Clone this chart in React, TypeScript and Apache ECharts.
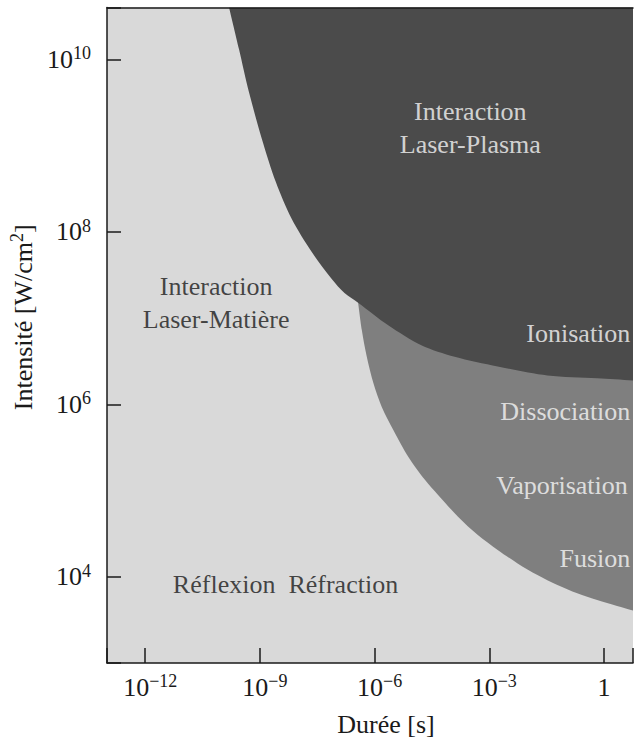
import React, { useEffect, useRef } from 'react';
import * as echarts from 'echarts';

// Axis ticks
const xTickValues = [1e-12, 1e-9, 1e-6, 1e-3, 1];
const yTickValues = [1e4, 1e6, 1e8, 1e10];

// Boundary of the laser-plasma region (duration [s], intensity [W/cm2])
const plasmaDuration = [1.56e-10, 2.84e-10, 5.18e-10, 1.13e-9, 2.61e-9, 6.81e-9, 2.25e-8, 7.48e-8, 1.63e-7, 3.77e-7, 2.27e-6, 1.67e-5, 1.24e-4, 1.66e-3, 3.32e-2, 0.664, 5.74, 40];
const plasmaIntensity = [4e10, 1.31e10, 4.15e9, 1.19e9, 3.78e8, 1.41e8, 5.87e7, 2.86e7, 1.95e7, 1.5e7, 8.26e6, 4.85e6, 3.56e6, 2.75e6, 2.16e6, 2.0e6, 1.89e6, 1.82e6];

// Boundary of the thermal-effects region (fusion / vaporisation / dissociation)
const thermalDuration = [3.58e-7, 4.63e-7, 6.25e-7, 9.33e-7, 1.53e-6, 3.09e-6, 7.59e-6, 2.07e-5, 4.58e-5, 1.52e-4, 5.02e-4, 1.66e-3, 5.51e-3, 1.82e-2, 6.05e-2, 0.2, 0.664, 2.2, 5.73, 40];
const thermalIntensity = [1.72e7, 7.28e6, 3.56e6, 1.75e6, 9.4e5, 5.04e5, 2.47e5, 1.33e5, 8.87e4, 4.98e4, 3.05e4, 2.05e4, 1.43e4, 1.05e4, 8.04e3, 6.44e3, 5.38e3, 4.58e3, 4.05e3, 3.1e3];

// Region annotations
const regionNames = ['Interaction\nLaser-Plasma', 'Interaction\nLaser-Matière', 'Ionisation', 'Dissociation', 'Vaporisation', 'Fusion', 'Réflexion  Réfraction'];
const regionDuration = [3.19e-4, 7.16e-11, 4.9, 4.9, 4.2, 4.9, 4.67e-9];
const regionIntensity = [1.61e9, 1.49e7, 6.62e6, 8.3e5, 1.13e5, 1.64e4, 8.1e3];

const FONT = 'Liberation Serif';
const INK = '#1a1a1a';
const LIGHT = '#d9d9d9';
const MID = '#7f7f7f';
const DARK = '#4b4b4b';
const WHITE = '#f7f7f7';

export default function App() {
  const ref = useRef<HTMLDivElement>(null);
  useEffect(() => {
    const chart = echarts.init(ref.current as HTMLDivElement, null, { renderer: 'svg' });
    const near = (v: number, list: number[]) =>
      list.find((t) => Math.abs(Math.log10(v) - Math.log10(t)) < 1e-6);
    const powLabel = (list: number[], shiftNeg: boolean) => (v: number) => {
      const t = near(v, list);
      if (t === undefined) return '';
      const e = Math.round(Math.log10(t));
      if (e === 0) return '{b|1}';
      const base = e < 0 && shiftNeg ? 'bn' : 'b';
      return `{${base}|10}{s|${e < 0 ? '\u2212' : ''}${Math.abs(e)}}`;
    };
    const rich = {
      b: { fontFamily: FONT, fontSize: 26, color: INK, lineHeight: 30 },
      bn: { fontFamily: FONT, fontSize: 26, color: INK, lineHeight: 30, padding: [0, 0, 0, 10] },
      s: { fontFamily: FONT, fontSize: 18, color: INK, lineHeight: 18, verticalAlign: 'top' },
    };
    const axisLineStyle = { color: INK, width: 1.5 };
    const xMin = 1e-13;
    const xMax = 5.75;
    const yMin = 1e3;
    const yMax = 4e10;
    const whiteIdx = [0, 2, 3, 4, 5];
    const rightIdx = [2, 3, 4, 5];

    chart.setOption({
      animation: false,
      backgroundColor: '#ffffff',
      textStyle: { fontFamily: FONT },
      grid: {
        left: 107,
        top: 7.5,
        right: 0,
        bottom: 79,
        show: true,
        backgroundColor: LIGHT,
        borderWidth: 0,
      },
      xAxis: [
        {
          type: 'log',
          logBase: 1000,
          min: xMin,
          max: xMax,
          position: 'bottom',
          z: 10,
          name: '{a|Durée [s]}',
          nameLocation: 'middle',
          nameGap: 46,
          nameTextStyle: {
            fontFamily: FONT,
            padding: [0, 0, 0, 32],
            rich: { a: { fontFamily: FONT, fontSize: 26, color: INK, lineHeight: 30 } },
          },
          axisLine: { show: true, onZero: false, lineStyle: axisLineStyle },
          axisTick: { show: true, inside: true, length: 15, lineStyle: axisLineStyle },
          axisLabel: { show: true, margin: 9, formatter: powLabel(xTickValues, true), rich },
          splitLine: { show: false },
          minorTick: { show: false },
        },
        {
          type: 'log',
          logBase: 1000,
          min: xMin,
          max: xMax,
          position: 'top',
          z: 10,
          axisLine: { show: true, onZero: false, lineStyle: axisLineStyle },
          axisTick: { show: false },
          axisLabel: { show: false },
          splitLine: { show: false },
        },
      ],
      yAxis: {
        type: 'log',
        logBase: 100,
        min: yMin,
        max: yMax,
        z: 10,
        name: '{a|Intensité [W/cm}{s|2}{a|]}',
        nameLocation: 'middle',
        nameGap: 63,
        nameTextStyle: {
          fontFamily: FONT,
          padding: [0, 0, 0, 36],
          rich: {
            a: { fontFamily: FONT, fontSize: 26, color: INK, lineHeight: 30 },
            s: { fontFamily: FONT, fontSize: 18, color: INK, lineHeight: 18, verticalAlign: 'top' },
          },
        },
        axisLine: { show: true, onZero: false, lineStyle: axisLineStyle },
        axisTick: { show: true, inside: true, length: 14, lineStyle: axisLineStyle },
        axisLabel: { show: true, margin: 16, formatter: powLabel(yTickValues, false), rich },
        splitLine: { show: false },
      },
      series: [
        {
          name: 'Effets thermiques',
          type: 'line',
          xAxisIndex: 0,
          data: thermalDuration.map((t, i) => [t, thermalIntensity[i]]),
          symbol: 'none',
          smooth: 0.3,
          lineStyle: { width: 0, color: MID },
          areaStyle: { color: MID, opacity: 1, origin: 'end' },
          silent: true,
          z: 2,
        },
        {
          name: 'Interaction Laser-Plasma',
          type: 'line',
          xAxisIndex: 0,
          data: plasmaDuration.map((t, i) => [t, plasmaIntensity[i]]),
          symbol: 'none',
          smooth: 0.3,
          lineStyle: { width: 0, color: DARK },
          areaStyle: { color: DARK, opacity: 1, origin: 'end' },
          silent: true,
          z: 3,
        },
        {
          name: 'Régions',
          type: 'scatter',
          xAxisIndex: 0,
          symbolSize: 1,
          itemStyle: { color: 'rgba(0,0,0,0)' },
          silent: true,
          z: 6,
          label: {
            show: true,
            position: 'inside',
            formatter: (p: any) => {
              const key = whiteIdx.includes(p.dataIndex) ? 'w' : 'k';
              return String(p.name)
                .split('\n')
                .map((l: string) => `{${key}|${l}}`)
                .join('\n');
            },
            rich: {
              w: { fontFamily: FONT, fontSize: 26, color: WHITE, lineHeight: 33 },
              k: { fontFamily: FONT, fontSize: 26, color: INK, lineHeight: 33 },
            },
          },
          data: regionNames.map((n, i) => ({
            name: n,
            value: [regionDuration[i], regionIntensity[i]],
            label: {
              align: rightIdx.includes(i) ? 'right' : 'center',
            },
          })),
        },
      ],
    });
    return () => chart.dispose();
  }, []);
  return (
    <div
      ref={ref}
      style={{ position: 'absolute', left: 0, top: 0, width: 636, height: 742 }}
    />
  );
}
